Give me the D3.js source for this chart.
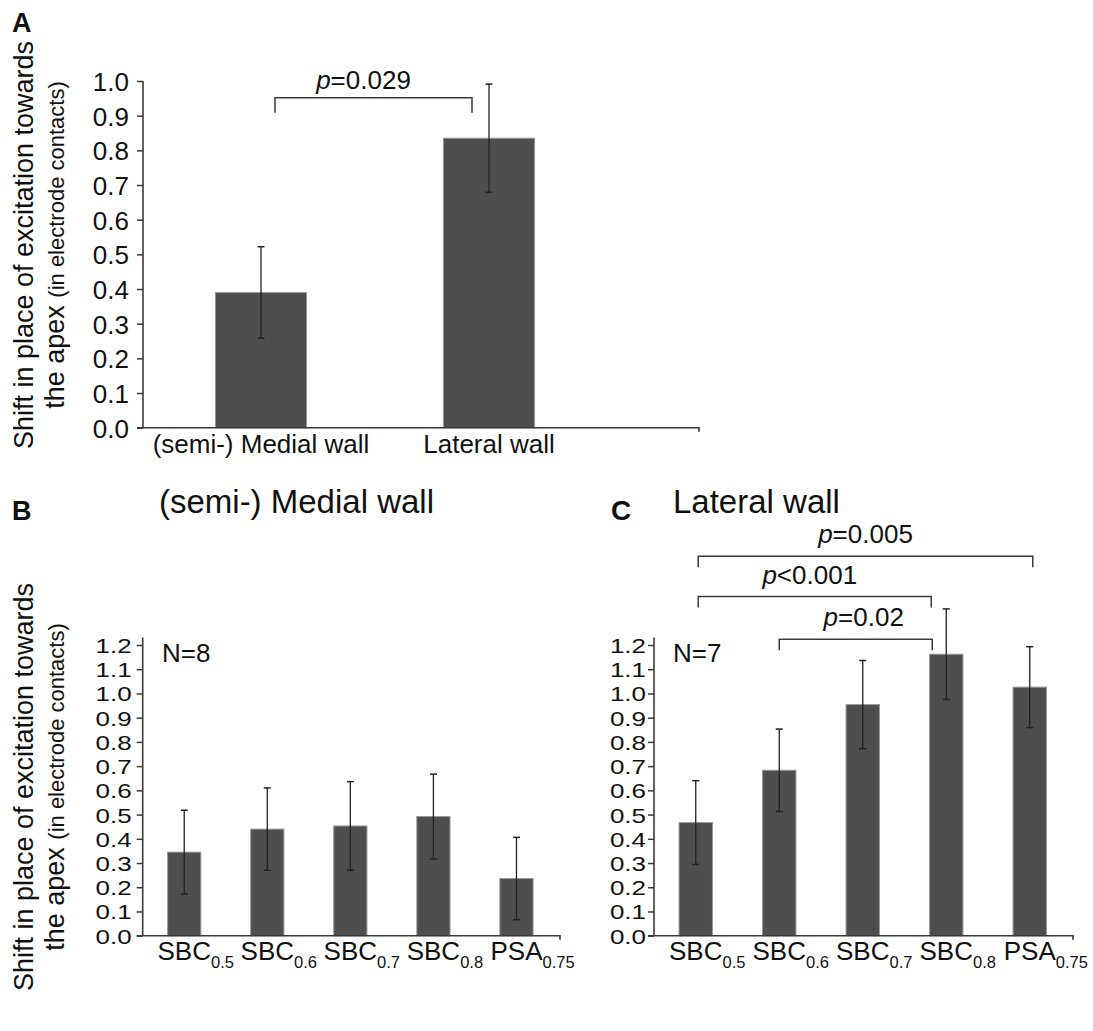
<!DOCTYPE html>
<html>
<head>
<meta charset="utf-8">
<script src="https://cdn.jsdelivr.net/npm/d3@7"></script>
<style>
  html, body { margin: 0; padding: 0; background: #fff; }
  svg { display: block; font-family: "Liberation Sans", Arial, Helvetica, sans-serif; }
</style>
</head>
<body>
<svg id="chart" width="1093" height="1031"></svg>
<script>
// ---------------- DATA ----------------
const categoriesA = ["(semi-) Medial wall", "Lateral wall"];
const meansA = [0.39, 0.835];
const errorsA = [0.132, 0.156];

const categoriesBC = ["SBC0.5", "SBC0.6", "SBC0.7", "SBC0.8", "PSA0.75"];
const labelMainBC = ["SBC", "SBC", "SBC", "SBC", "PSA"];
const labelSubBC = ["0.5", "0.6", "0.7", "0.8", "0.75"];

const meansB = [0.345, 0.44, 0.453, 0.492, 0.236];
const errorsB = [0.173, 0.17, 0.183, 0.175, 0.17];

const meansC = [0.467, 0.683, 0.954, 1.162, 1.026];
const errorsC = [0.173, 0.17, 0.182, 0.187, 0.167];

const ticksA = [0, 0.1, 0.2, 0.3, 0.4, 0.5, 0.6, 0.7, 0.8, 0.9, 1.0];
const ticksBC = [0, 0.1, 0.2, 0.3, 0.4, 0.5, 0.6, 0.7, 0.8, 0.9, 1.0, 1.1, 1.2];

const titleB = "(semi-) Medial wall";
const titleC = "Lateral wall";
const nB = "N=8";
const nC = "N=7";
const yTitle1 = "Shift in place of excitation towards";
const yTitle2a = "the apex ";
const yTitle2b = "(in electrode contacts)";

// significance brackets: from/to category, comparison, p value, level (data units)
const bracketsA = [{ from: "(semi-) Medial wall", to: "Lateral wall", op: "=", p: "0.029", level: 0.952 }];
const bracketsC = [
  { from: "SBC0.5", to: "PSA0.75", op: "=", p: "0.005", level: 1.566 },
  { from: "SBC0.5", to: "SBC0.8", op: "<", p: "0.001", level: 1.40 },
  { from: "SBC0.6", to: "SBC0.8", op: "=", p: "0.02", level: 1.224 }
];

// ---------------- STYLE / LAYOUT ----------------
const FONT = "'Liberation Sans', Arial, Helvetica, sans-serif";
const BAR_FILL = "#4e4e4e";
const BAR_EDGE = "#9a9a9a";
const AXIS_COL = "#3a3a3a";
const ERR_COL = "#222";
const fmt = d3.format(".1f");

const svg = d3.select("#chart");

function addText(g, x, y, str, size, opts = {}) {
  const t = g.append("text")
    .attr("x", x).attr("y", y)
    .attr("font-size", size)
    .attr("font-family", FONT)
    .attr("fill", "#111")
    .attr("text-anchor", opts.anchor || "start");
  if (opts.bold) t.attr("font-weight", "bold");
  t.text(str);
  return t;
}

function pText(g, cx, y, op, p, size) {
  const t = g.append("text")
    .attr("x", cx).attr("y", y)
    .attr("font-size", size).attr("font-family", FONT)
    .attr("fill", "#111").attr("text-anchor", "middle");
  t.append("tspan").attr("font-style", "italic").text("p");
  t.append("tspan").text(op + p);
}

function yTitle(g, xBase1, xBase2, cy) {
  g.append("text")
    .attr("transform", `translate(${xBase1},${cy}) rotate(-90)`)
    .attr("text-anchor", "middle").attr("font-size", 27).attr("font-family", FONT)
    .attr("fill", "#111").text(yTitle1);
  const t = g.append("text")
    .attr("transform", `translate(${xBase2},${cy}) rotate(-90)`)
    .attr("text-anchor", "middle").attr("font-family", FONT).attr("fill", "#111");
  t.append("tspan").attr("font-size", 27).text(yTitle2a);
  t.append("tspan").attr("font-size", 22).text(yTitle2b);
}

function panel(cfg) {
  const g = svg.append("g");
  const y = d3.scaleLinear().domain([0, cfg.yMax]).range([cfg.y0, cfg.yTop]);
  const x = d3.scaleBand().domain(cfg.cats).range(cfg.xRange)
    .paddingInner(0.6).paddingOuter(0.3);

  g.selectAll("rect.bar").data(cfg.cats).join("rect")
    .attr("class", "bar")
    .attr("x", d => x(d)).attr("width", x.bandwidth())
    .attr("y", (d, i) => y(cfg.means[i]))
    .attr("height", (d, i) => y(0) - y(cfg.means[i]))
    .attr("fill", BAR_FILL).attr("stroke", BAR_EDGE).attr("stroke-width", 1);

  const eg = g.selectAll("g.err").data(cfg.cats).join("g").attr("class", "err");
  const cx = d => x(d) + x.bandwidth() / 2;
  eg.append("line")
    .attr("x1", cx).attr("x2", cx)
    .attr("y1", (d, i) => y(cfg.means[i] + cfg.errs[i]))
    .attr("y2", (d, i) => y(cfg.means[i] - cfg.errs[i]))
    .attr("stroke", ERR_COL).attr("stroke-width", 1.3);
  [1, -1].forEach(s => {
    eg.append("line")
      .attr("x1", d => cx(d) - 3.5).attr("x2", d => cx(d) + 3.5)
      .attr("y1", (d, i) => y(cfg.means[i] + s * cfg.errs[i]))
      .attr("y2", (d, i) => y(cfg.means[i] + s * cfg.errs[i]))
      .attr("stroke", ERR_COL).attr("stroke-width", 1.5);
  });

  const ya = g.append("g").attr("transform", `translate(${cfg.xAxis},0)`)
    .call(d3.axisLeft(y).tickValues(cfg.ticks).tickFormat(fmt)
      .tickSize(6).tickPadding(cfg.tickPad).tickSizeOuter(0));
  ya.select(".domain").remove();
  ya.selectAll(".tick line").attr("stroke", AXIS_COL).attr("stroke-width", 1.5);
  ya.selectAll(".tick text")
    .attr("font-size", 26).attr("font-family", FONT).attr("fill", "#111")
    .attr("dy", "0.36em")
    .attr("transform", `scale(1,${cfg.tickSy})`);
  g.append("line").attr("x1", cfg.xAxis).attr("x2", cfg.xAxis)
    .attr("y1", y(0)).attr("y2", cfg.yAxisTop)
    .attr("stroke", AXIS_COL).attr("stroke-width", 1.6);

  g.append("path")
    .attr("d", `M${cfg.xAxis - 6},${y(0)}H${cfg.xEnd}v4`)
    .attr("fill", "none").attr("stroke", AXIS_COL).attr("stroke-width", 1.6);

  return { g, x, y, cx };
}

// ---------------- PANEL A ----------------
const A = panel({
  cats: categoriesA, means: meansA, errs: errorsA, yMax: 1.0,
  y0: 427.7, yTop: 81, yAxisTop: 81, xAxis: 143, xEnd: 699,
  xRange: [147, 603], ticks: ticksA, tickPad: 8, tickSy: 1
});
categoriesA.forEach(c => {
  addText(A.g, A.cx(c), 453, c, 26, { anchor: "middle" });
});
const nudgeA = [[14, -17]];
bracketsA.forEach((b, i) => {
  const x1 = A.cx(b.from) + nudgeA[i][0], x2 = A.cx(b.to) + nudgeA[i][1];
  const yy = A.y(b.level);
  A.g.append("path").attr("d", `M${x1},${yy + 15}V${yy}H${x2}V${yy + 15}`)
    .attr("fill", "none").attr("stroke", AXIS_COL).attr("stroke-width", 1.5);
  pText(A.g, (x1 + x2) / 2 - 10, yy - 9, b.op, b.p, 26);
});
addText(svg, 12, 32, "A", 27, { bold: true });
yTitle(svg, 32.5, 64, 245);

// ---------------- PANEL B / C ----------------
const B = panel({
  cats: categoriesBC, means: meansB, errs: errorsB, yMax: 1.2,
  y0: 935.7, yTop: 645, yAxisTop: 637.5, xAxis: 142.7, xEnd: 560,
  xRange: [142.7, 558], ticks: ticksBC, tickPad: 5, tickSy: 0.8
});
const C = panel({
  cats: categoriesBC, means: meansC, errs: errorsC, yMax: 1.2,
  y0: 935.7, yTop: 645, yAxisTop: 637.5, xAxis: 654, xEnd: 1073,
  xRange: [654, 1071.5], ticks: ticksBC, tickPad: 2, tickSy: 0.8
});

[B, C].forEach(P => {
  categoriesBC.forEach((c, i) => {
    const t = P.g.append("text").attr("font-family", FONT).attr("fill", "#111");
    const m = t.append("tspan").attr("font-size", 26).text(labelMainBC[i]);
    t.append("tspan").attr("font-size", 16.5).attr("dy", 8).text(labelSubBC[i]);
    const w = m.node().getComputedTextLength();
    t.attr("x", P.cx(c) - w / 2).attr("y", 960);
  });
});

addText(B.g, 162, 661.5, nB, 26);
addText(C.g, 673, 661.5, nC, 26);

addText(svg, 296.5, 513, titleB, 33, { anchor: "middle" });
addText(svg, 673, 513, titleC, 33);
addText(svg, 12, 520, "B", 27, { bold: true });
addText(svg, 611, 520, "C", 28, { bold: true });
yTitle(svg, 32.5, 64, 787);

const nudgeC = [[2.5, 3], [2.5, -15], [0, -14]];
const textDxC = [0, -5, 8];
bracketsC.forEach((b, i) => {
  const x1 = C.cx(b.from) + nudgeC[i][0], x2 = C.cx(b.to) + nudgeC[i][1];
  const yy = C.y(b.level);
  C.g.append("path").attr("d", `M${x1},${yy + 11}V${yy}H${x2}V${yy + 11}`)
    .attr("fill", "none").attr("stroke", AXIS_COL).attr("stroke-width", 1.5);
  pText(C.g, (x1 + x2) / 2 + textDxC[i], yy - 13, b.op, b.p, 26);
});
</script>
</body>
</html>
